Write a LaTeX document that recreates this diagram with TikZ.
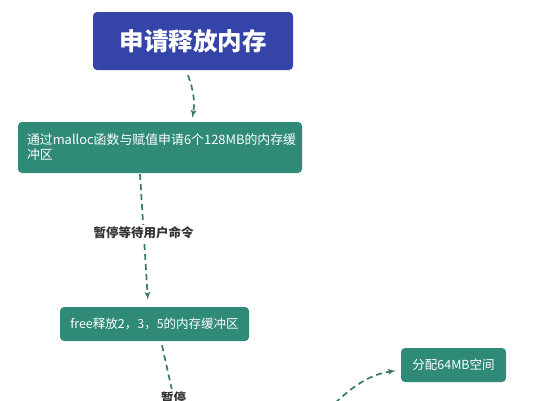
\documentclass[tikz,border=0pt]{standalone}
\usepackage{fontspec}
\setmainfont{Noto Sans CJK SC}
\usetikzlibrary{arrows,shapes}
\usetikzlibrary{positioning}
\definecolor{titleblue}{HTML}{3544A8}
\definecolor{stepgreen}{HTML}{2F8A77}
\definecolor{flowline}{HTML}{3A7868}
\definecolor{labelgray}{HTML}{333333}
\tikzstyle{title box}=[rectangle,rounded corners=4pt,fill=titleblue,text=white,
               minimum width=200pt,minimum height=58pt,font=\fontsize{24.5}{28}\selectfont\bfseries]
\tikzstyle{stepbox}=[rectangle,rounded corners=4pt,fill=stepgreen,text=white,
               minimum height=34pt,inner xsep=9pt,font=\fontsize{12.5}{15}\selectfont]
\tikzstyle{flow}=[draw=flowline,line width=1.7pt,dash pattern=on 6pt off 4pt,
               -latex',shorten >=2pt]
\tikzstyle{flow label}=[fill=white,text=labelgray,inner sep=2pt,
               font=\fontsize{12.5}{15}\selectfont\bfseries]

\begin{document}
\begin{tikzpicture}[x=1pt,y=-1pt]
\useasboundingbox (0,0) rectangle (548,400);
\node [title box] (ask) at (193,41) {申请释放内存};
\node [stepbox,text width=266pt,align=left,minimum height=51pt,
       font=\fontsize{12.9}{15}\selectfont] (malloc) at (160,147.5)
  {通过malloc函数与赋值申请6个128MB的内存缓\\冲区};
\node [stepbox,minimum width=189pt] (free) at (154.5,324) {free释放2，3，5的内存缓冲区};
\node [stepbox,minimum width=105pt] (alloc) at (453.5,365) {分配64MB空间};
\coordinate (pause) at (183,440);
\coordinate (prev) at (328,410);
\draw [flow] ([xshift=-5pt,yshift=-5pt]ask.south) to[out=-70,in=80]
  ([xshift=32pt,yshift=2pt]malloc.north);
\draw [flow] ([xshift=-20pt,yshift=-1pt]malloc.south) --
  node [flow label,pos=0.46] (wait) {暂停等待用户命令}
  ([xshift=-6.5pt,yshift=5pt]free.north);
\draw [flow] ([xshift=7.5pt,yshift=-4pt]free.south) --
  node [flow label,pos=0.55] (hold) {暂停} (pause);
\draw [flow,shorten >=5pt] (prev) to[out=45,in=188] ([yshift=-5pt]alloc.west);
\end{tikzpicture}
\end{document}
